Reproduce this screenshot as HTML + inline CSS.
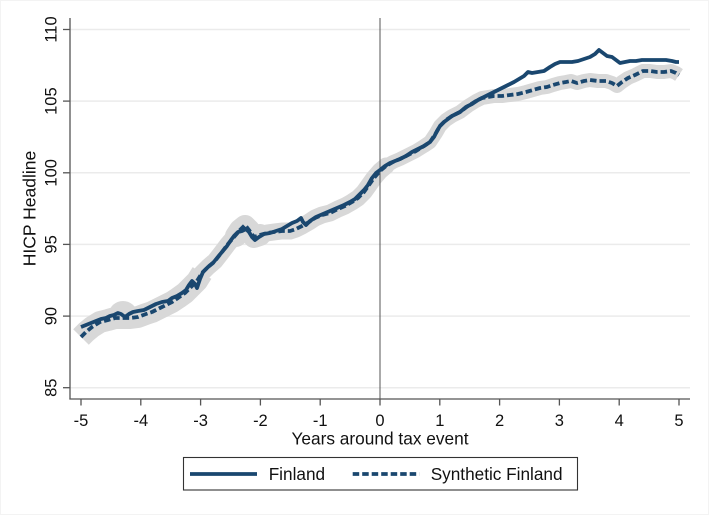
<!DOCTYPE html>
<html>
<head>
<meta charset="utf-8">
<style>
  html,body{margin:0;padding:0;background:#fff;}
  svg{display:block;}
  text{font-family:"Liberation Sans",Arial,sans-serif;fill:#111;}
</style>
</head>
<body>
<svg width="709" height="515" viewBox="0 0 709 515" xmlns="http://www.w3.org/2000/svg">
  <rect x="0" y="0" width="709" height="515" fill="#fff"/>
  <rect x="0.5" y="0.5" width="708" height="514" fill="none" stroke="#f3f3f3" stroke-width="1"/>

  <!-- gridlines -->
  <g stroke="#ebebeb" stroke-width="1.5">
    <line x1="70" y1="29.5" x2="690" y2="29.5"/>
    <line x1="70" y1="101.1" x2="690" y2="101.1"/>
    <line x1="70" y1="172.8" x2="690" y2="172.8"/>
    <line x1="70" y1="244.4" x2="690" y2="244.4"/>
    <line x1="70" y1="316.1" x2="690" y2="316.1"/>
    <line x1="70" y1="387.7" x2="690" y2="387.7"/>
  </g>

  <!-- confidence band -->
  <g fill="none" stroke="#d8d8d8" stroke-linejoin="round">
    <polyline stroke-width="22" stroke-linecap="butt" points="81,337 86,332 92,327 100,322 108,320 115,318 122,318 130,318 138,317 146,314 152,312 160,308 166,305 172,302 178,298 185,293 191,287 197,281 202,273"/>
    <ellipse cx="123" cy="314" rx="14" ry="13" fill="#d8d8d8" stroke="none"/>
    <polyline stroke-width="17" stroke-linecap="round" points="197,281 202,273 208,267 215,261 222,252 228,244 234,237 240,230 245,225 249,230 254,237 260,235 267,233 274,232 282,231 290,231 296,229 302,226 309,222 315,218 322,215 330,213 338,209 345,206 352,202 358,198 364,192 369,185 374,178 380,171 386,166"/>
    <polyline stroke-width="22" stroke-linecap="round" points="236,236 240,230 245,226 249,230 254,237 260,235"/>
    <polyline stroke-width="14" stroke-linecap="butt" points="380,171 386,166 393,162 400,159 408,155 416,151 424,146 430,142 436,133 440,126 446,120 452,116 460,112 468,106 476,101 482,98 488,97 494,96 502,96 510,95 518,94 526,92 533,90 540,88 547,87 553,85 560,83 566,82 571,81 577,83 584,81 590,80 598,81 606,81 612,83 617,86 622,82 628,78 635,75 643,71 650,71 657,72 664,72 671,71 676,73 679,75"/>
  </g>

  <!-- xline at 0 -->
  <line x1="380" y1="18" x2="380" y2="399" stroke="#555" stroke-width="1"/>

  <!-- synthetic (dashed) -->
  <polyline fill="none" stroke="#1a476f" stroke-width="3.8" stroke-dasharray="6.5 3" stroke-linejoin="round"
    points="81,337 86,332 92,327 100,322 108,320 115,318 122,318 130,318 138,317 146,314 152,312 160,308 166,305 172,302 178,298 185,293 191,287 197,281 202,273 208,267 215,261 222,252 228,244 234,237 240,230 245,225 249,230 254,237 260,235 267,233 274,232 282,231 290,231 296,229 302,226 309,222 315,218 322,215 330,213 338,209 345,206 352,202 358,198 364,192 369,185 374,178 380,171 386,166 393,162 400,159 408,155 416,151 424,146 430,142 436,133 440,126 446,120 452,116 460,112 468,106 476,101 482,98 488,97 494,96 502,96 510,95 518,94 526,92 533,90 540,88 547,87 553,85 560,83 566,82 571,81 577,83 584,81 590,80 598,81 606,81 612,83 617,86 622,82 628,78 635,75 643,71 650,71 657,72 664,72 671,71 676,73 679,75"/>

  <!-- Finland (solid) -->
  <polyline fill="none" stroke="#1a476f" stroke-width="3.8" stroke-linejoin="round"
    points="81,327 86,325 91,323 96,321 101,319 106,318 110,316 114,315 118,313 121,314 125,317 129,314 133,312 138,311 144,310 150,307 156,304 162,302 168,301 172,298 177,296 182,293 186,290 189,285 192,281 195,284 197,288 200,279 203,272 208,267 213,263 217,258 222,252 227,246 231,240 234,236 238,232 242,231 246,229 249,232 252,237 255,240 259,237 264,234 270,233 276,231 282,229 287,226 292,223 297,221 301,218 303,222 306,225 310,221 316,217 323,214 330,211 337,208 344,205 350,202 355,199 360,194 364,190 368,185 372,178 376,173 380,170 385,166 390,163 395,161 400,159 406,156 412,152 418,149 424,146 430,142 434,137 437,131 440,126 444,122 448,119 452,116 456,114 460,112 466,107 472,104 478,100 484,97 490,94 496,91 502,88 508,85 514,82 519,79 524,76 528,72 532,73 538,72 544,71 550,67 555,64 560,62 566,62 572,62 578,61 584,59 590,57 595,54 599,50 603,53 607,56 612,57 616,60 620,63 625,62 630,61 636,61 642,60 650,60 658,60 666,60 672,61 676,62 679,62"/>

  <!-- axes -->
  <g stroke="#555" stroke-width="1.3" fill="none">
    <line x1="70" y1="18" x2="70" y2="399.5"/>
    <line x1="69.4" y1="399" x2="690" y2="399"/>
    <line x1="63" y1="29.5" x2="70" y2="29.5"/>
    <line x1="63" y1="101.1" x2="70" y2="101.1"/>
    <line x1="63" y1="172.8" x2="70" y2="172.8"/>
    <line x1="63" y1="244.4" x2="70" y2="244.4"/>
    <line x1="63" y1="316.1" x2="70" y2="316.1"/>
    <line x1="63" y1="387.7" x2="70" y2="387.7"/>
    <line x1="81" y1="399" x2="81" y2="405.5"/>
    <line x1="140.8" y1="399" x2="140.8" y2="405.5"/>
    <line x1="200.6" y1="399" x2="200.6" y2="405.5"/>
    <line x1="260.4" y1="399" x2="260.4" y2="405.5"/>
    <line x1="320.2" y1="399" x2="320.2" y2="405.5"/>
    <line x1="380" y1="399" x2="380" y2="405.5"/>
    <line x1="439.8" y1="399" x2="439.8" y2="405.5"/>
    <line x1="499.6" y1="399" x2="499.6" y2="405.5"/>
    <line x1="559.4" y1="399" x2="559.4" y2="405.5"/>
    <line x1="619.2" y1="399" x2="619.2" y2="405.5"/>
    <line x1="679" y1="399" x2="679" y2="405.5"/>
  </g>

  <!-- y tick labels -->
  <g font-size="16.5" text-anchor="middle">
    <text x="56.7" y="29.5" transform="rotate(-90 56.7 29.5)">110</text>
    <text x="56.7" y="101.1" transform="rotate(-90 56.7 101.1)">105</text>
    <text x="56.7" y="172.8" transform="rotate(-90 56.7 172.8)">100</text>
    <text x="56.7" y="244.4" transform="rotate(-90 56.7 244.4)">95</text>
    <text x="56.7" y="316.1" transform="rotate(-90 56.7 316.1)">90</text>
    <text x="56.7" y="387.7" transform="rotate(-90 56.7 387.7)">85</text>
  </g>
  <text x="35.7" y="208.5" font-size="17.5" text-anchor="middle" transform="rotate(-90 35.7 208.5)">HICP Headline</text>

  <!-- x tick labels -->
  <g font-size="16.5" text-anchor="middle">
    <text x="81" y="425.9">-5</text>
    <text x="140.8" y="425.9">-4</text>
    <text x="200.6" y="425.9">-3</text>
    <text x="260.4" y="425.9">-2</text>
    <text x="320.2" y="425.9">-1</text>
    <text x="380" y="425.9">0</text>
    <text x="439.8" y="425.9">1</text>
    <text x="499.6" y="425.9">2</text>
    <text x="559.4" y="425.9">3</text>
    <text x="619.2" y="425.9">4</text>
    <text x="679" y="425.9">5</text>
  </g>
  <text x="380" y="444.3" font-size="17.3" text-anchor="middle">Years around tax event</text>

  <!-- legend -->
  <rect x="183.5" y="457.5" width="394" height="32.5" fill="#fff" stroke="#333" stroke-width="1.1"/>
  <line x1="190" y1="474" x2="257" y2="474" stroke="#1a476f" stroke-width="3.8"/>
  <text x="268.7" y="480.2" font-size="17.2">Finland</text>
  <line x1="352.7" y1="474" x2="419.3" y2="474" stroke="#1a476f" stroke-width="3.8" stroke-dasharray="6.5 3"/>
  <text x="430.7" y="480.2" font-size="17.2">Synthetic Finland</text>
</svg>
</body>
</html>
